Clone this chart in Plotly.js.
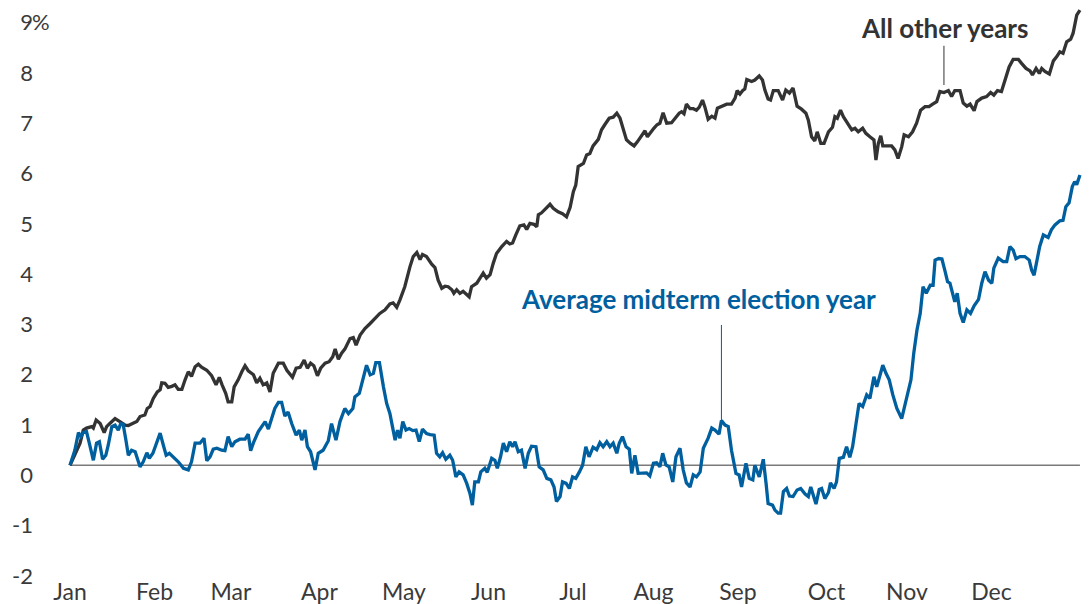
<!DOCTYPE html>
<html>
<head>
<meta charset="utf-8">
<script src="https://cdn.plot.ly/plotly-3.0.1.min.js"></script>
<style>
  html, body { margin: 0; padding: 0; background: #ffffff; }
  #chart { width: 1090px; height: 604px; }
</style>
</head>
<body>
<div id="chart"></div>
<script>
// ---- Data (trading-day index within the year, cumulative return %) ----
const monthLabels = ['Jan','Feb','Mar','Apr','May','Jun','Jul','Aug','Sep','Oct','Nov','Dec'];
const monthStartDays = [0,21,40,62,83,104,125,145,166,188,208,229];

const yTickVals = [-2,-1,0,1,2,3,4,5,6,7,8,9];
const yTickText = ['-2','-1','0','1','2','3','4','5','6','7','8','9'];
const yUnitSuffix = '%';

const seriesOtherName = 'All other years';
const otherDays = [0,1.7,2.5,3.3,4.1,5.4,5.8,6.5,7.5,8.5,9.1,9.9,11.2,12.4,13.7,14.5,15.6,16.6,17.4,18.6,19.2,19.9,20.7,21.7,22.4,22.8,23.6,24.4,25.3,26.1,26.9,27.8,28.6,29.4,30.2,31.1,31.9,32.7,34.0,35.2,36.3,37.1,37.8,38.7,39.3,40.2,40.8,41.8,42.7,43.5,44.3,45.6,46.4,47.2,48.0,48.9,49.7,50.5,51.8,53.0,53.9,55.3,56.2,57.2,58.2,59.0,59.8,60.6,61.5,62.3,63.4,64.4,65.3,65.9,66.7,67.5,68.3,68.8,69.6,70.4,71.1,72.1,73.3,74.6,75.8,77.0,78.3,79.5,80.3,81.2,82.0,83.2,84.5,85.3,86.2,87.0,87.6,88.6,89.9,90.7,91.5,92.4,93.2,94.0,94.9,95.4,96.1,96.9,97.7,98.6,99.2,99.8,101.1,101.9,102.7,103.5,104.4,105.2,106.0,107.3,108.5,109.3,110.0,110.8,111.8,112.8,113.5,114.3,115.3,116.0,116.4,117.2,118.0,119.3,120.1,121.3,122.4,123.4,124.3,125.1,125.7,126.3,127.6,128.4,129.2,130.0,131.3,132.1,132.9,134.0,135.0,135.9,136.7,137.5,138.3,139.3,140.2,141.0,142.1,142.9,143.5,144.3,145.1,145.9,146.6,147.4,148.3,149.5,150.3,151.4,152.0,152.6,153.2,154.1,154.9,155.7,156.4,157.2,157.8,158.6,159.5,160.3,160.9,162.0,163.2,164.4,165.3,165.8,166.5,167.2,167.7,168.2,169.4,170.2,171.3,172.1,172.7,173.5,174.1,174.8,176.0,177.1,177.9,178.8,179.7,180.7,181.8,182.9,183.5,184.3,185.1,185.7,186.6,187.4,188.5,189.5,190.1,190.7,191.5,192.2,193.0,194.3,195.1,195.9,197.0,197.8,198.8,199.8,200.3,200.9,201.5,202.0,203.0,204.2,205.0,205.8,206.7,207.3,208.4,209.4,210.4,211.4,212.5,213.5,214.4,215.4,216.2,217.2,218.3,219.1,219.9,221.2,222.0,222.9,223.7,224.7,225.4,226.6,227.8,228.8,229.6,230.5,231.5,232.4,233.4,234.4,235.7,236.5,237.6,238.6,239.2,240.1,240.9,241.5,242.3,243.4,244.4,245.2,246.0,246.8,247.7,248.7,249.3,250.2,251.0];
const otherValues = [0,0.3,0.44,0.7,0.74,0.77,0.74,0.9,0.83,0.65,0.77,0.83,0.93,0.87,0.8,0.79,0.83,0.87,0.97,1.0,1.13,1.17,1.33,1.46,1.5,1.64,1.63,1.55,1.57,1.6,1.51,1.51,1.7,1.86,1.77,1.96,2.01,1.95,1.89,1.78,1.6,1.75,1.6,1.43,1.26,1.26,1.56,1.7,1.86,1.98,1.88,1.8,1.64,1.73,1.6,1.64,1.46,1.83,2.03,2.03,1.89,1.75,1.93,1.95,2.09,1.93,2.03,1.98,1.78,1.93,2.03,2.06,2.16,2.31,2.11,2.23,2.31,2.39,2.52,2.54,2.39,2.59,2.72,2.82,2.92,3.02,3.09,3.21,3.23,3.14,3.29,3.55,3.95,4.15,4.23,4.09,4.19,4.15,4.0,3.93,3.68,3.52,3.56,3.55,3.49,3.42,3.49,3.42,3.46,3.39,3.35,3.55,3.62,3.72,3.82,3.72,3.79,4.02,4.21,4.35,4.45,4.4,4.42,4.58,4.76,4.78,4.69,4.81,4.79,4.74,4.98,5.02,5.08,5.19,5.11,5.04,5.0,4.94,5.13,5.44,5.57,5.94,6.0,6.17,6.2,6.35,6.48,6.67,6.77,6.9,6.92,7.0,6.9,6.67,6.47,6.4,6.35,6.43,6.57,6.65,6.53,6.63,6.7,6.77,6.8,7.01,6.8,6.81,6.9,7.0,7.03,6.99,7.18,7.09,7.09,7.06,7.12,7.26,7.12,6.88,6.94,6.9,7.1,7.14,7.18,7.18,7.3,7.45,7.38,7.45,7.48,7.67,7.63,7.66,7.74,7.66,7.46,7.28,7.26,7.45,7.45,7.26,7.46,7.4,7.5,7.14,7.08,7.0,6.86,6.53,6.45,6.63,6.4,6.4,6.63,6.72,6.93,6.9,7.06,6.93,6.83,6.67,6.7,6.63,6.7,6.6,6.53,6.47,6.07,6.4,6.55,6.35,6.35,6.35,6.27,6.1,6.33,6.57,6.53,6.63,6.8,7.06,7.13,7.13,7.18,7.23,7.43,7.41,7.45,7.33,7.45,7.45,7.2,7.14,7.18,7.05,7.23,7.3,7.33,7.41,7.36,7.45,7.43,7.66,7.92,8.07,8.07,7.99,7.89,7.84,7.76,7.89,7.79,7.89,7.83,7.78,8.04,8.12,8.22,8.19,8.42,8.47,8.59,8.95,9.05];

const seriesMidName = 'Average midterm election year';
const midDays = [0,1.2,2.1,2.7,3.3,4.1,4.8,5.8,6.6,7.3,8.1,8.9,9.5,10.4,11.2,12.0,12.6,13.2,13.9,14.5,15.3,16.2,17.4,18.2,19.1,19.7,20.6,21.5,22.4,23.2,23.9,24.7,25.7,26.9,28.2,29.4,30.2,31.1,32.3,33.3,34.0,34.8,35.6,36.5,37.7,38.5,39.3,40.2,41.0,42.2,43.5,44.3,44.9,45.6,46.8,47.6,48.5,49.3,50.1,50.9,51.8,52.6,53.4,54.2,55.1,56.2,57.0,57.6,58.4,59.0,59.8,60.9,61.7,62.9,64.2,65.0,66.1,67.1,68.3,69.2,70.3,70.8,71.9,72.9,73.7,74.6,75.4,76.0,76.9,77.9,78.7,79.5,80.2,80.8,81.4,82.0,82.7,83.5,84.3,85.2,86.0,86.8,87.6,88.6,89.5,90.5,91.1,91.9,92.6,93.4,94.4,95.1,95.9,96.7,97.7,98.6,99.4,100.0,100.6,101.5,102.1,103.1,103.7,104.8,105.6,106.2,107.0,107.7,108.5,109.3,110.0,110.6,111.4,112.2,113.1,113.9,114.7,115.8,116.6,117.6,118.5,119.5,120.3,120.9,121.8,122.4,123.3,124.1,124.9,125.7,126.6,127.4,128.2,129.0,130.0,130.9,131.7,132.5,133.4,134.2,135.0,135.9,136.5,137.3,138.2,139.0,139.6,140.4,141.2,142.5,143.3,144.1,145.0,145.8,146.6,147.3,148.1,148.9,149.8,150.6,151.6,152.4,153.2,154.1,154.9,155.7,156.6,157.4,158.6,159.5,160.3,161.3,161.9,162.8,163.6,164.4,165.5,166.3,166.9,168.0,168.8,169.7,170.2,171.3,172.3,173.0,173.5,174.6,175.2,176.0,176.6,177.3,178.1,178.8,179.7,180.7,181.6,182.7,183.5,184.1,184.7,185.4,186.2,186.8,187.6,188.5,189.0,189.9,190.5,191.2,192.2,193.0,193.8,194.5,195.3,196.1,197.0,198.0,198.8,199.8,200.5,202.0,202.8,203.6,204.5,205.5,206.7,207.5,208.4,209.0,209.7,210.5,211.3,212.0,212.8,213.8,214.5,215.0,215.9,216.7,217.5,218.1,218.7,219.4,219.9,220.5,221.2,222.0,222.9,223.8,224.7,225.8,226.6,227.4,228.3,229.1,229.6,230.7,231.9,232.8,233.6,234.4,235.1,236.1,237.3,238.4,239.0,239.6,240.4,241.0,241.9,243.1,243.9,244.8,246.0,246.8,247.5,248.3,249.1,249.7,250.2,251.0];
const midValues = [0,0.3,0.65,0.57,0.65,0.67,0.44,0.1,0.44,0.47,0.12,0.2,0.4,0.77,0.8,0.7,0.83,0.82,0.5,0.2,0.3,0.27,-0.03,0.07,0.25,0.14,0.24,0.44,0.64,0.4,0.2,0.24,0.17,0.07,-0.06,-0.09,0.07,0.44,0.44,0.54,0.09,0.17,0.32,0.34,0.3,0.29,0.57,0.37,0.47,0.52,0.52,0.62,0.29,0.45,0.67,0.77,0.87,0.72,0.93,1.13,1.25,1.25,0.98,1.06,0.83,0.6,0.7,0.5,0.7,0.37,0.27,-0.09,0.24,0.3,0.49,0.83,0.5,0.87,1.13,1.03,1.13,1.36,1.43,1.73,1.99,1.8,1.83,2.04,2.04,1.56,1.23,1.03,0.7,0.5,0.7,0.54,0.87,0.7,0.73,0.69,0.7,0.47,0.72,0.63,0.61,0.6,0.24,0.17,0.25,0.12,0.2,0.1,-0.23,-0.13,-0.19,-0.36,-0.56,-0.79,-0.33,-0.33,-0.13,-0.06,-0.14,0.14,0.1,-0.06,0.17,0.44,0.27,0.47,0.37,0.47,0.27,0.3,-0.06,0.24,0.38,0.37,-0.03,-0.09,-0.26,-0.29,-0.43,-0.72,-0.62,-0.33,-0.36,-0.46,-0.23,-0.26,-0.13,0.0,0.37,0.17,0.36,0.31,0.45,0.37,0.47,0.37,0.44,0.24,0.44,0.57,0.37,0.32,-0.16,0.2,-0.16,-0.16,-0.15,-0.21,0.04,0.05,-0.03,0.24,0.01,-0.03,-0.33,0.17,0.34,-0.09,-0.35,-0.43,-0.19,-0.23,-0.13,0.34,0.54,0.74,0.7,0.62,0.89,0.8,0.77,0.3,-0.16,-0.19,-0.43,0.04,-0.26,-0.29,0.0,-0.23,0.12,-0.36,-0.76,-0.79,-0.89,-0.95,-0.95,-0.52,-0.46,-0.61,-0.62,-0.49,-0.46,-0.57,-0.62,-0.43,-0.59,-0.77,-0.48,-0.46,-0.66,-0.54,-0.35,-0.46,-0.33,0.14,0.16,0.37,0.16,0.37,0.8,1.23,1.17,1.4,1.33,1.76,1.56,1.99,1.83,1.7,1.4,1.13,0.93,1.2,1.56,1.7,2.23,2.69,3.02,3.55,3.42,3.58,3.58,4.08,4.11,4.1,3.85,3.65,3.62,3.42,3.25,3.42,3.02,2.84,3.09,3.02,3.17,3.3,3.62,3.85,3.68,3.62,3.92,4.12,4.05,4.05,4.35,4.28,4.11,4.15,4.15,4.08,3.88,3.78,4.11,4.35,4.58,4.53,4.68,4.78,4.86,4.87,5.14,5.22,5.54,5.64,5.58,5.77];

// ---- Styling ----
const FONT = 'Lato, "Open Sans", sans-serif';
const GRAY = '#333333';
const BLUE = '#005f9e';
const TEXT = '#3a3a3a';

const traces = [
  { x: otherDays, y: otherValues, name: seriesOtherName, type: 'scatter', mode: 'lines',
    line: { color: GRAY, width: 3.3 }, hoverinfo: 'skip' },
  { x: midDays, y: midValues, name: seriesMidName, type: 'scatter', mode: 'lines',
    line: { color: BLUE, width: 3.3 }, hoverinfo: 'skip' }
];

const lastDay = otherDays[otherDays.length - 1];

const layout = {
  width: 1090, height: 604,
  margin: { l: 60, r: 0, t: 0, b: 28, pad: 0 },
  paper_bgcolor: '#ffffff', plot_bgcolor: '#ffffff',
  showlegend: false,
  font: { family: FONT, color: TEXT, size: 22 },
  xaxis: {
    range: [-2.485, 253.5], showgrid: false, zeroline: false, showline: false,
    tickmode: 'array', tickvals: monthStartDays, ticktext: monthLabels,
    ticks: '', tickfont: { family: FONT, size: 23, color: TEXT }, automargin: false,
    fixedrange: true
  },
  yaxis: {
    range: [-2.2, 9.25], showgrid: false, zeroline: false, showline: false,
    tickmode: 'array', tickvals: yTickVals, ticktext: yTickText,
    ticks: '', tickfont: { family: FONT, size: 22, color: TEXT },
    ticklabelshift: 10, ticklabelstandoff: 26, automargin: false, fixedrange: true
  },
  shapes: [
    { type: 'line', xref: 'x', yref: 'y', x0: 0, x1: lastDay, y0: 0, y1: 0,
      line: { color: '#7a7a7a', width: 1.5 }, layer: 'below' },
    { type: 'line', xref: 'x', yref: 'y', x0: 217.2, x1: 217.2, y0: 8.34, y1: 7.56,
      line: { color: GRAY, width: 1 } },
    { type: 'line', xref: 'x', yref: 'y', x0: 161.9, x1: 161.9, y0: 2.79, y1: 0.9,
      line: { color: BLUE, width: 1 } }
  ],
  annotations: [
    { xref: 'paper', yref: 'y', x: 0, y: yTickVals[yTickVals.length - 1], xanchor: 'left', yanchor: 'middle',
      xshift: -30, yshift: -9, text: yUnitSuffix, showarrow: false,
      font: { family: FONT, size: 22, color: TEXT } },
    { xref: 'x', yref: 'y', x: 217.3, y: 8.69, text: '<b>' + seriesOtherName + '</b>', showarrow: false,
      xanchor: 'center', yanchor: 'middle', font: { family: FONT, size: 26, color: GRAY } },
    { xref: 'x', yref: 'y', x: 156.3, y: 3.31, text: '<b>' + seriesMidName + '</b>', showarrow: false,
      xanchor: 'center', yanchor: 'middle', font: { family: FONT, size: 26, color: BLUE } }
  ]
};

Plotly.newPlot('chart', traces, layout, { displayModeBar: false, staticPlot: true });
</script>
</body>
</html>
